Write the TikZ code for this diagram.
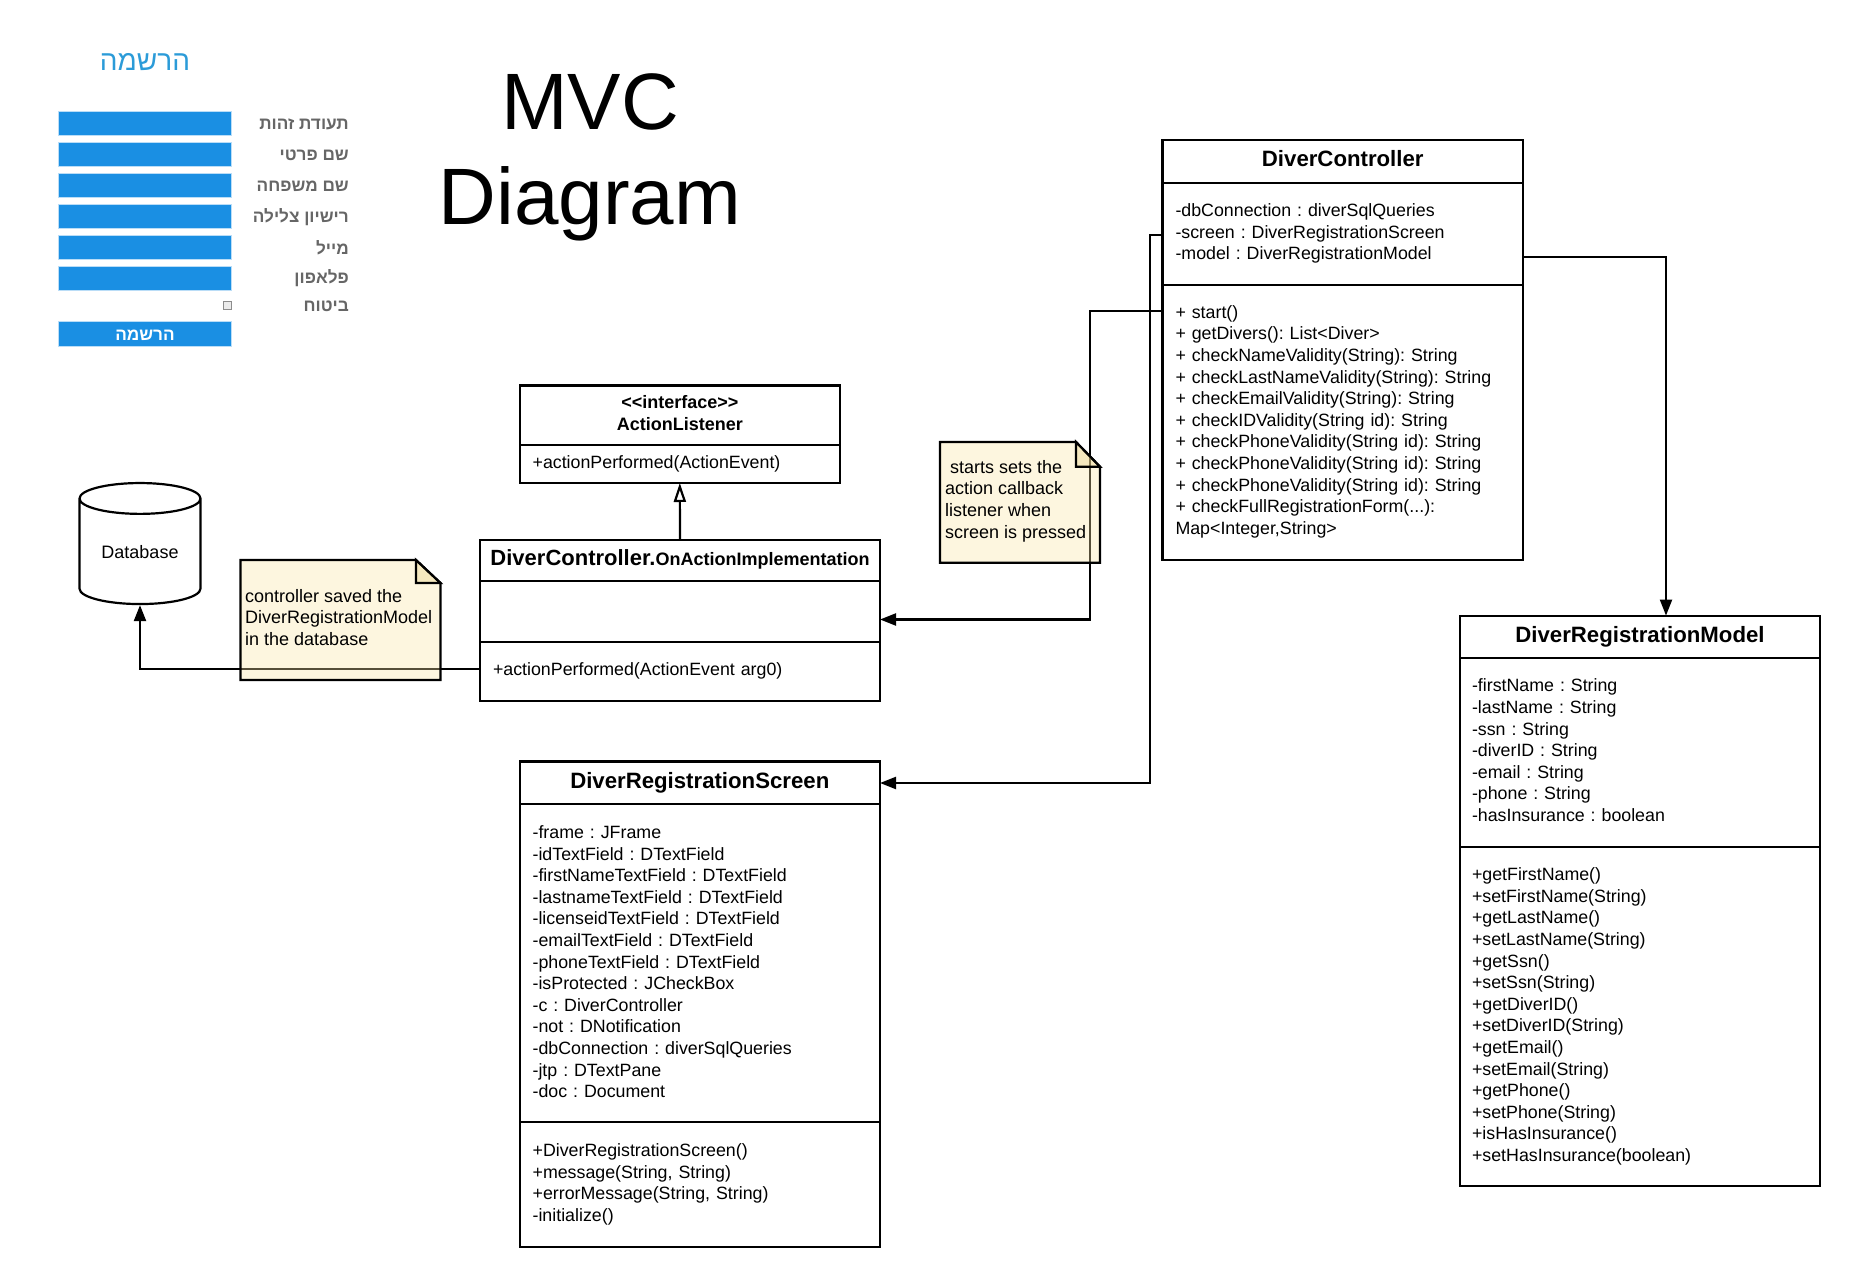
\documentclass[tikz,border=0pt]{standalone}
\usepackage{fontspec}
\usetikzlibrary{positioning,arrows.meta,shapes.geometric}
\setmainfont{Liberation Sans}
\newfontfamily\hebfont[Script=Hebrew]{Liberation Sans}
\TeXXeTstate=1
\frenchspacing
\definecolor{formblue}{HTML}{1A8FE3}
\definecolor{formhead}{HTML}{2B9BD8}
\definecolor{formgray}{HTML}{666666}
\definecolor{notefill}{HTML}{F9E5A4}
\definecolor{notefold}{HTML}{E6CE81}
\newcommand{\heb}[1]{{\hebfont\beginR #1\endR}}
\newcommand{\lift}[1]{\par\vskip #1\hrule height 0pt}
\tikzset{
  line/.style={line width=2.2pt},
  umlname/.style={draw, line, inner sep=0pt, outer sep=0pt, align=center, text depth=5pt, font=\bfseries\fontsize{22.2}{26}\selectfont},
  umlpart/.style={draw, line, inner sep=0pt, outer sep=0pt, inner xsep=13pt, align=left, font=\fontsize{17.8}{21.6}\selectfont},
  conn/.style={line, -{Triangle[length=16pt,width=12pt]}},
  notebox/.style={line, draw=black, fill=notefill, fill opacity=0.35},
  foldbox/.style={line, draw=black, fill=notefold, fill opacity=0.35},
  notetext/.style={inner sep=0pt, align=left, font=\fontsize{18}{21.6}\selectfont},
  field/.style={fill=formblue, draw=formblue!30, line width=1pt, minimum width=173pt, minimum height=24pt, inner sep=0pt, anchor=north west},
  formlabel/.style={inner sep=0pt, anchor=east, text=formgray, font=\bfseries\fontsize{17.2}{20}\selectfont},
}
\begin{document}
\begin{tikzpicture}[x=1pt,y=-1pt]
  \useasboundingbox (0,0) rectangle (1860,1287);

  %registration form
  \node[inner sep=0pt, text=formhead, font=\fontsize{28}{34}\selectfont] (formtitle) at (145,62.5) {\heb{הרשמה}};
  \node[field] (idfield) at (58,111) {};
  \node[field] (namefield) at (58,142) {};
  \node[field] (lastfield) at (58,173) {};
  \node[field] (licensefield) at (58,204) {};
  \node[field] (mailfield) at (58,235) {};
  \node[field] (phonefield) at (58,266) {};
  \node[field, minimum height=25pt] (formbutton) at (58,320.5) {};
  \node[text=white, inner sep=0pt, font=\bfseries\fontsize{17.2}{20}\selectfont] (buttonlabel) at ([yshift=-2pt]formbutton.center) {\heb{הרשמה}};
  \node[draw=black!45, fill=black!8, line width=0.8pt, minimum width=8pt, minimum height=8pt, inner sep=0pt] (insbox) at (227.5,305.5) {};
  \node[formlabel] (idlabel) at (349,124) {\heb{תעודת זהות}};
  \node[formlabel] (namelabel) at (349,155) {\heb{שם פרטי}};
  \node[formlabel] (lastlabel) at (349,186) {\heb{שם משפחה}};
  \node[formlabel] (licenselabel) at (349,217) {\heb{רישיון צלילה}};
  \node[formlabel] (maillabel) at (349,247.5) {\heb{מייל}};
  \node[formlabel] (phonelabel) at (349,278.5) {\heb{פלאפון}};
  \node[formlabel] (inslabel) at (349,306.5) {\heb{ביטוח}};

  %title
  \node[align=center, inner sep=0pt, font=\fontsize{80}{95}\selectfont] (bigtitle) at (590,157.5) {MVC\\Diagram};

  %controller
  \node[umlname, minimum width=360.5pt, minimum height=42.7pt] (ctrlname) at (1342.75,161.35) {DiverController};
  \node[umlpart, below=0pt of ctrlname, text width=334.5pt, minimum height=102pt] (ctrlattr) {-dbConnection : diverSqlQueries\\-screen : DiverRegistrationScreen\\-model : DiverRegistrationModel};
  \node[umlpart, below=0pt of ctrlattr, text width=334.5pt, minimum height=275.3pt] (ctrlops) {+ start()\\+ getDivers(): List<Diver>\\+ checkNameValidity(String): String\\+ checkLastNameValidity(String): String\\+ checkEmailValidity(String): String\\+ checkIDValidity(String id): String\\+ checkPhoneValidity(String id): String\\+ checkPhoneValidity(String id): String\\+ checkPhoneValidity(String id): String\\+ checkFullRegistrationForm(...):\\Map<Integer,String>\lift{1.5pt}};

  %model
  \node[umlname, minimum width=360pt, minimum height=42.4pt] (modelname) at (1640,636.8) {DiverRegistrationModel};
  \node[umlpart, below=0pt of modelname, inner xsep=12pt, text width=336pt, minimum height=189pt] (modelattr) {-firstName : String\\-lastName : String\\-ssn : String\\-diverID : String\\-email : String\\-phone : String\\-hasInsurance : boolean\lift{4.5pt}};
  \node[umlpart, below=0pt of modelattr, inner xsep=12pt, text width=336pt, minimum height=339pt] (modelops) {+getFirstName()\\+setFirstName(String)\\+getLastName()\\+setLastName(String)\\+getSsn()\\+setSsn(String)\\+getDiverID()\\+setDiverID(String)\\+getEmail()\\+setEmail(String)\\+getPhone()\\+setPhone(String)\\+isHasInsurance()\\+setHasInsurance(boolean)};

  %screen
  \node[umlname, minimum width=360.4pt, minimum height=42.5pt] (screenname) at (699.8,782.75) {DiverRegistrationScreen};
  \node[umlpart, below=0pt of screenname, text width=334.4pt, minimum height=318pt] (screenattr) {-frame : JFrame\\-idTextField : DTextField\\-firstNameTextField : DTextField\\-lastnameTextField : DTextField\\-licenseidTextField : DTextField\\-emailTextField : DTextField\\-phoneTextField : DTextField\\-isProtected : JCheckBox\\-c : DiverController\\-not : DNotification\\-dbConnection : diverSqlQueries\\-jtp : DTextPane\\-doc : Document\lift{2.4pt}};
  \node[umlpart, below=0pt of screenattr, text width=334.4pt, minimum height=124.7pt] (screenops) {+DiverRegistrationScreen()\\+message(String, String)\\+errorMessage(String, String)\\-initialize()};

  %interface
  \node[umlname, font=\bfseries\fontsize{18}{21.6}\selectfont, minimum width=320.4pt, minimum height=59.5pt] (listenname) at (679.8,415.25) {<{}<interface>{}>\\ActionListener};
  \node[umlpart, below=0pt of listenname, text width=294.4pt, minimum height=38pt] (listenops) {+actionPerformed(ActionEvent)};

  %implementation
  \node[umlname, font=\bfseries\fontsize{22}{26}\selectfont, minimum width=400pt, minimum height=41pt] (onname) at (680,560.5) {DiverController.{\fontsize{18}{21.6}\selectfont OnActionImplementation}};
  \node[umlpart, below=0pt of onname, text width=374pt, minimum height=61pt] (onattr) {};
  \node[umlpart, below=0pt of onattr, text width=374pt, minimum height=59pt] (onops) {+actionPerformed(ActionEvent arg0)\lift{1pt}};

  %database
  \node[draw, line, cylinder, shape border rotate=90, aspect=0.4, minimum width=121pt, minimum height=121pt, inner sep=0pt, font=\fontsize{18}{21.6}\selectfont] (dbnode) at (140,551.8) {Database};

  %connectors
  \coordinate (dbturn) at (140,669);
  \coordinate (listenturn) at (1090,310.7);
  \coordinate (listenend) at (1090,619.5);
  \coordinate (screenturn) at (1150,235);
  \coordinate (screenend) at (1150,783);
  \coordinate (modelturn) at (1666,256.7);
  \draw[conn] (onops.west |- dbturn) -- (dbturn) -- (dbnode.south);
  \draw[conn] (ctrlops.west |- listenturn) -- (listenturn) -- (listenend) -- (onattr.east |- listenend);
  \draw[conn] (ctrlattr.west |- screenturn) -- (screenturn) -- (screenend) -- (screenname.east |- screenend);
  \draw[conn] (ctrlattr.east |- modelturn) -- (modelturn) -- (modelturn |- modelname.north);
  \draw[line, -{Triangle[open,fill=white,length=19pt,width=12pt]}] (onname.north) -- (listenops.south);

  %notes
  \draw[notebox] (240.5,560) -- (416,560) -- (440.5,583) -- (440.5,680) -- (240.5,680) -- cycle;
  \draw[foldbox] (416,560) -- (440.5,583) -- (416,583) -- cycle;
  \node[notetext, anchor=west] (savenote) at (245,617.5) {controller saved the\\DiverRegistrationModel\\in the database};
  \draw[notebox] (940,442) -- (1076,442) -- (1100,466.7) -- (1100,562.7) -- (940,562.7) -- cycle;
  \draw[foldbox] (1076,442) -- (1100,466.7) -- (1076,466.7) -- cycle;
  \node[notetext, anchor=west] (startnote) at (945,501) {\hspace*{5pt}starts sets the\\action callback\\listener when\\screen is pressed};
\end{tikzpicture}
\end{document}
